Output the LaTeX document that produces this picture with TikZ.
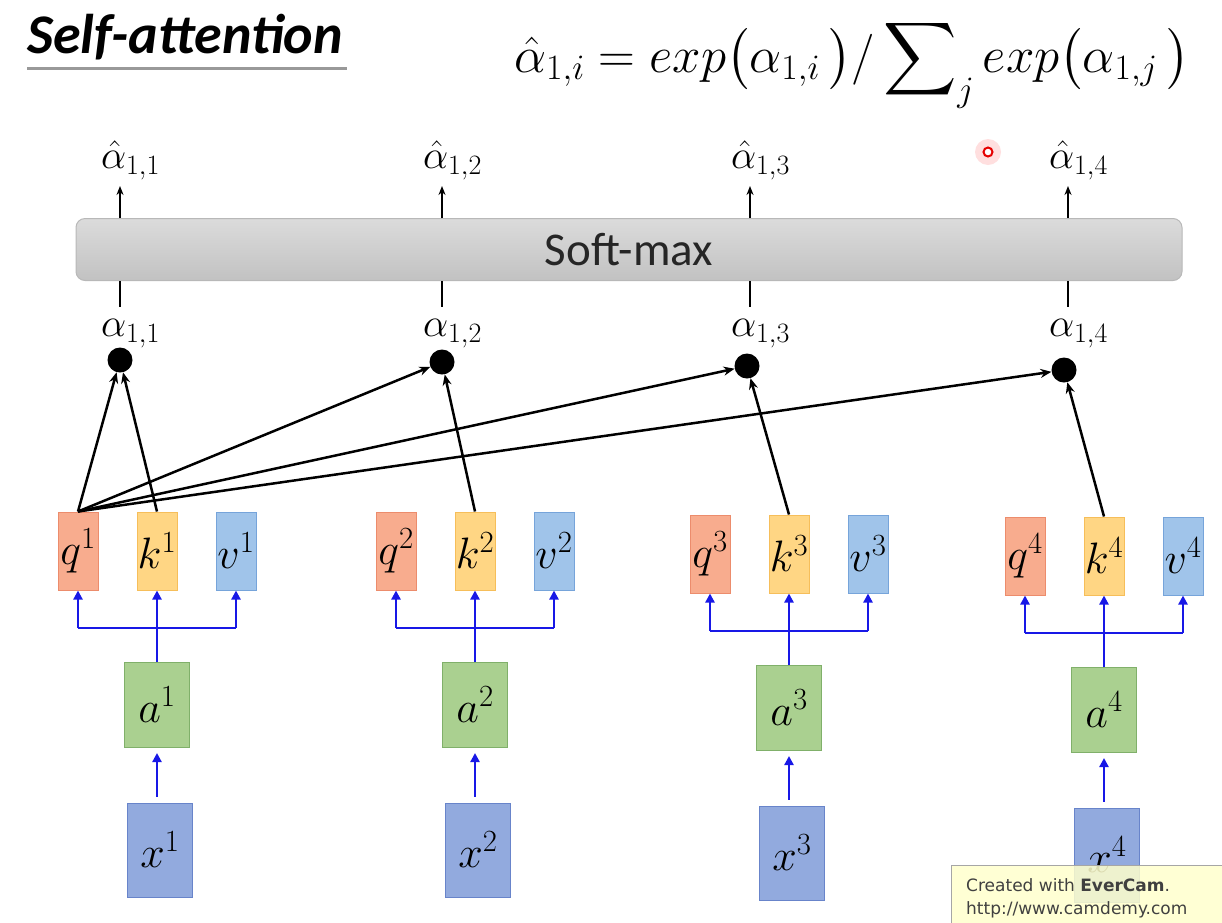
\documentclass[tikz,border=0pt]{standalone}
\usepackage{fix-cm}
\usepackage{amsmath}
\usepackage{fontspec}
\usetikzlibrary{arrows.meta,positioning}
\DeclareFontShape{OMX}{cmex}{m}{n}{<->cmex10}{}
\newfontfamily\carlito{Carlito}
\newfontfamily\camfont{DejaVu Sans}
\definecolor{qfill}{RGB}{248,172,142}
\definecolor{qline}{RGB}{236,140,108}
\definecolor{kfill}{RGB}{255,214,132}
\definecolor{kline}{RGB}{246,190,90}
\definecolor{vfill}{RGB}{160,196,234}
\definecolor{vline}{RGB}{118,164,218}
\definecolor{afill}{RGB}{170,208,144}
\definecolor{aline}{RGB}{128,176,106}
\definecolor{xfill}{RGB}{146,170,222}
\definecolor{xline}{RGB}{104,132,202}
\definecolor{feedblue}{RGB}{24,24,230}
\definecolor{wmfill}{RGB}{255,255,204}

\begin{document}
\begin{tikzpicture}[x=1pt,y=-1pt,
   cell/.style={draw,line width=1pt,inner sep=0pt,minimum width=40pt,minimum height=78pt,font=\fontsize{44}{46}\selectfont},
   qcell/.style={cell,draw=qline,fill=qfill},
   kcell/.style={cell,draw=kline,fill=kfill},
   vcell/.style={cell,draw=vline,fill=vfill},
   wide/.style={cell,minimum width=65pt},
   acell/.style={wide,minimum height=85pt,draw=aline,fill=afill},
   xcell/.style={wide,minimum height=94pt,draw=xline,fill=xfill},
   dot/.style={circle,fill=black,inner sep=0pt,minimum size=25pt},
   lbl/.style={inner sep=0pt,anchor=base west,font=\fontsize{40}{42}\selectfont},
   feed/.style={-{Triangle[length=9pt,width=9pt]},draw=feedblue,line width=2.5pt},
   score/.style={-{Stealth[length=11pt,width=9pt]},line width=2.5pt},
   outarr/.style={-{Stealth[length=9pt,width=7pt]},line width=2pt}]
  \useasboundingbox (0,0) rectangle (1222,922);
  \clip (0,0) rectangle (1222,922);
  % title and formula
  \node[inner sep=0pt,anchor=base west,font=\carlito\bfseries\itshape\fontsize{56}{60}\selectfont] (ttl) at (27,53) {Self-attention};
  \draw[black!40,line width=3pt] (27,68) -- (347,68);
  \node[inner sep=0pt,anchor=base,font=\fontsize{51}{54}\selectfont] (fm) at (852,72)
    {$\hat{\alpha}_{1,i} = exp\bigl(\alpha_{1,i}\,\bigr)/\displaystyle\sum\nolimits_j exp\bigl(\alpha_{1,j}\,\bigr)$};
  % soft-max layer
  \node[draw=black!28,line width=1pt,rounded corners=9pt,top color=black!14,bottom color=black!24,
        minimum width=1106pt,minimum height=62pt,inner sep=0pt,text=black!85,
        font=\carlito\fontsize{47}{50}\selectfont] (sm) at (629,249.5) {Soft-max};
  \foreach \i/\cx/\dx/\dy in {1/120/120/360, 2/442/442/362, 3/750/747/366, 4/1068/1064/370}{
    \node[dot] (d\i) at (\dx,\dy) {};
    \node[lbl] (s\i) at (\cx-19,336) {$\alpha_{1,\i}$};
    \node[lbl] (p\i) at (\cx-19,168) {$\hat{\alpha}_{1,\i}$};
    \coordinate (t\i) at (\cx,186);
    \coordinate (b\i) at (\cx,307);
    \draw[line width=2pt] (sm.south -| b\i) -- (b\i);
    \draw[outarr] (sm.north -| t\i) -- (t\i);
  }
  % q k v from a from x
  \foreach \i/\qx/\ly in {1/78/0, 2/396/0, 3/710/3, 4/1025/5}{
    \node[qcell] (q\i) at (\qx,551+\ly) {$q^\i$};
    \node[kcell] (k\i) at (\qx+79,551+\ly) {$k^\i$};
    \node[vcell] (v\i) at (\qx+158,551+\ly) {$v^\i$};
    \node[acell] (a\i) at (\qx+79,705+\ly) {$a^\i$};
    \node[xcell] (x\i) at (\qx+82,850+\ly) {$x^\i$};
    \coordinate (u\i) at (\qx+79,628+\ly);
    \draw[feedblue,line width=2.5pt] (u\i -| q\i.south) -- (u\i -| v\i.south);
    \draw[feed] (u\i -| q\i.south) -- (q\i.south);
    \draw[feed] (u\i -| v\i.south) -- (v\i.south);
    \draw[feed] (a\i.north) -- (k\i.south);
    \draw[feed,shorten <=6pt,shorten >=5pt] (x\i.north -| a\i.south) -- (a\i.south);
  }
  % dot products
  \foreach \i in {1,...,4}{
    \draw[score] (q1.north) -- (d\i);
    \draw[score] (k\i.north) -- (d\i);
  }
  % pointer and recorder mark
  \fill[red!50,opacity=0.25] (988,152) circle (13);
  \draw[red!90!black,line width=2pt,fill=white] (988,152) circle (4.5);
  \fill[wmfill,opacity=0.85] (951,865) rectangle (1240,940);
  \draw[black!35,line width=1pt] (951,940) -- (951,865) -- (1240,865);
  \node[inner sep=0pt,anchor=base west,text=black!75,font=\camfont\fontsize{17}{20}\selectfont] (wm1) at (966,891) {Created with \textbf{EverCam}.};
  \node[inner sep=0pt,anchor=base west,text=black!75,font=\camfont\fontsize{17}{20}\selectfont] (wm2) at (966,914) {http://www.camdemy.com};
\end{tikzpicture}
\end{document}
